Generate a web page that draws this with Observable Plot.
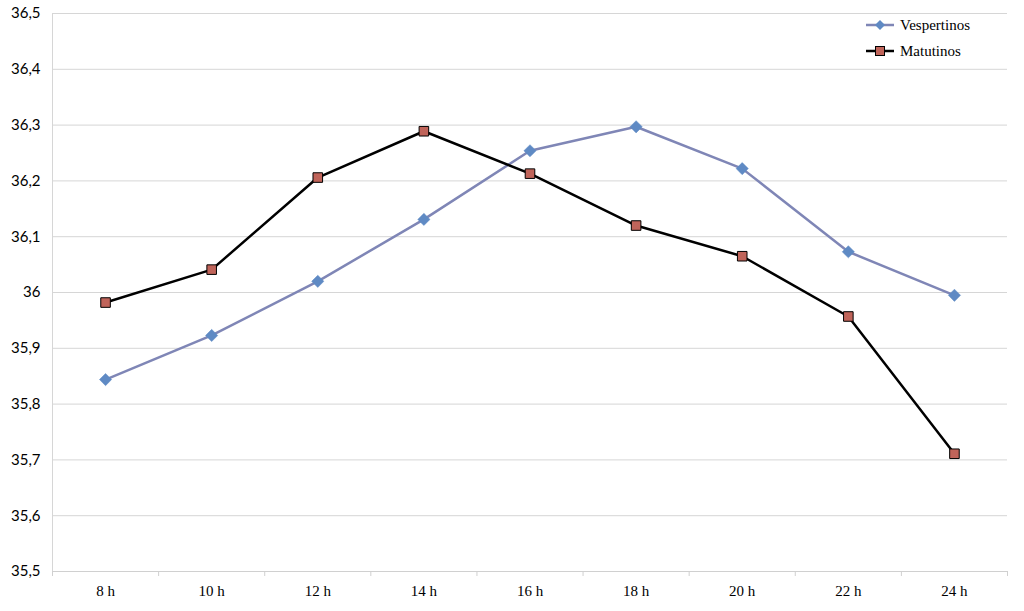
<!DOCTYPE html>
<html>
<head>
<meta charset="utf-8">
<script src="https://cdn.jsdelivr.net/npm/d3@7"></script>
<script src="https://cdn.jsdelivr.net/npm/@observablehq/plot@0.6"></script>
<style>
  body { margin: 0; background: #fff; }
  #wrap { position: relative; width: 1024px; height: 611px; }
  #legend { position: absolute; left: 864px; top: 12px; font-family: "Liberation Serif", "DejaVu Serif", serif; font-size: 15px; color: #000; }
  #legend div { display: flex; align-items: center; height: 26px; }
  #legend svg { margin-right: 4px; }
</style>
</head>
<body>
<div id="wrap"><div id="legend"></div></div>
<script>
const hours = ["8 h", "10 h", "12 h", "14 h", "16 h", "18 h", "20 h", "22 h", "24 h"];
const vespertinos = [35.844, 35.923, 36.020, 36.131, 36.254, 36.297, 36.222, 36.073, 35.995];
const matutinos = [35.982, 36.041, 36.206, 36.289, 36.213, 36.120, 36.065, 35.957, 35.711];
const yTicks = [35.5, 35.6, 35.7, 35.8, 35.9, 36.0, 36.1, 36.2, 36.3, 36.4, 36.5];

const vespColor = "#7f86b6";
const vespFill = "#5f8ac4";
const matuColor = "#000000";
const matuFill = "#c0645a";

const idx = hours.map((_, i) => i);
const boundaries = d3.range(0, hours.length + 1).map(i => i - 0.5);
const vData = idx.map(i => ({i, v: vespertinos[i]}));
const mData = idx.map(i => ({i, v: matutinos[i]}));

const fmt = d => String(+d.toFixed(1)).replace(".", ",");

const chart = Plot.plot({
  width: 1024,
  height: 611,
  marginLeft: 52,
  marginRight: 17,
  marginTop: 13,
  marginBottom: 40,
  style: { background: "#fff", overflow: "visible" },
  x: { domain: [-0.5, hours.length - 0.5], axis: null },
  y: { domain: [35.5, 36.5], axis: null },
  marks: [
    Plot.gridY(yTicks, { stroke: "#d6d6d6", strokeOpacity: 1 }),
    Plot.ruleX([-0.5], { stroke: "#d6d6d6" }),
    Plot.axisX(boundaries, { tickFormat: () => "", tickSize: 5, stroke: "#d0d0d0", strokeOpacity: 1, label: null }),
    Plot.axisX(idx, { tickFormat: i => hours[i], tickSize: 0, tickPadding: 14, fontSize: 15, fontFamily: "Liberation Serif, DejaVu Serif, serif", fill: "#000", label: null }),
    Plot.axisY(yTicks, { tickFormat: fmt, tickSize: 0, tickPadding: 12, fontSize: 15, fontFamily: "Lato, Liberation Sans, sans-serif", fill: "#000", label: null }),
    Plot.ruleY([35.5], { stroke: "#d0d0d0" }),
    Plot.lineY(vData, { x: "i", y: "v", stroke: vespColor, strokeWidth: 2.5 }),
    Plot.dot(vData, { x: "i", y: "v", symbol: "diamond2", r: 5.5, fill: vespFill, stroke: vespFill, strokeWidth: 0.5 }),
    Plot.lineY(mData, { x: "i", y: "v", stroke: matuColor, strokeWidth: 2.5 }),
    Plot.dot(mData, { x: "i", y: "v", symbol: "square", r: 5.4, fill: matuFill, stroke: "#000", strokeWidth: 1 })
  ]
});
document.getElementById("wrap").prepend(chart);

const legend = document.getElementById("legend");
function item(label, stroke, fill, shape) {
  const ns = "http://www.w3.org/2000/svg";
  const row = document.createElement("div");
  const s = document.createElementNS(ns, "svg");
  s.setAttribute("width", 32); s.setAttribute("height", 14);
  const l = document.createElementNS(ns, "line");
  l.setAttribute("x1", 2); l.setAttribute("x2", 30); l.setAttribute("y1", 7); l.setAttribute("y2", 7);
  l.setAttribute("stroke", stroke); l.setAttribute("stroke-width", 2.5);
  s.appendChild(l);
  if (shape === "diamond") {
    const p = document.createElementNS(ns, "path");
    p.setAttribute("d", "M16,2 L21,7 L16,12 L11,7 Z");
    p.setAttribute("fill", fill);
    s.appendChild(p);
  } else {
    const r = document.createElementNS(ns, "rect");
    r.setAttribute("x", 11.5); r.setAttribute("y", 2.5); r.setAttribute("width", 9); r.setAttribute("height", 9);
    r.setAttribute("fill", fill); r.setAttribute("stroke", "#000");
    s.appendChild(r);
  }
  row.appendChild(s);
  row.appendChild(document.createTextNode(label));
  legend.appendChild(row);
}
item("Vespertinos", vespColor, vespFill, "diamond");
item("Matutinos", matuColor, matuFill, "square");
</script>
</body>
</html>
